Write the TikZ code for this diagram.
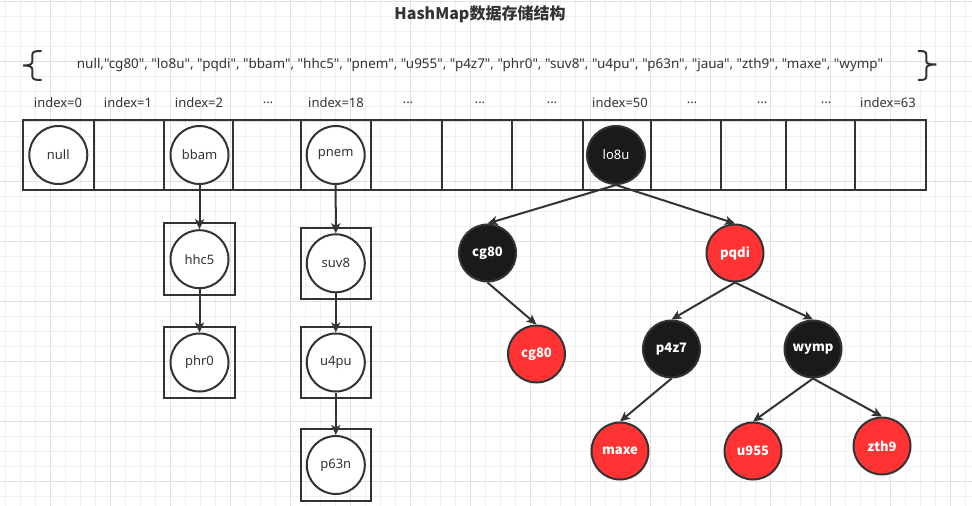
\documentclass[tikz,border=0pt]{standalone}
\usepackage{fontspec}
\setmainfont{Noto Sans}[Ligatures=TeXOff]
\newfontfamily\cjk{Noto Sans CJK SC}[Ligatures=TeXOff]
\usetikzlibrary{arrows.meta}
\definecolor{ink}{HTML}{333333}
\definecolor{rbred}{HTML}{FF3333}
\definecolor{rbblack}{HTML}{1A1A1A}
\definecolor{gridminor}{HTML}{F0F0F0}
\definecolor{gridmajor}{HTML}{E0E0E0}
\newcommand\elip{...}
\begin{document}
\begin{tikzpicture}[x=1pt,y=-1pt,
  lbl/.style={text=ink, font=\fontsize{13}{15}\selectfont, inner sep=0},
  cellbox/.style={draw=ink, line width=2pt, minimum height=70pt, inner sep=0, outer sep=0},
  chainbox/.style={draw=ink, line width=2pt, minimum width=71pt, minimum height=71.5pt, inner sep=0},
  plainnode/.style={circle, draw=ink, line width=2pt, fill=white, minimum size=58pt, inner sep=0, text=ink, font=\fontsize{13}{15}\selectfont},
  blacknode/.style={circle, draw=ink, line width=2pt, fill=rbblack, minimum size=57pt, inner sep=0, text=white, font=\cjk\bfseries\fontsize{13}{15}\selectfont},
  rednode/.style={circle, draw=ink, line width=2pt, fill=rbred, minimum size=57pt, inner sep=0, text=white, font=\cjk\bfseries\fontsize{13}{15}\selectfont},
  link/.style={draw=ink, line width=2pt, -{Stealth[length=10pt,width=9pt,inset=2.5pt]}},
  bracepath/.style={draw=ink, line width=2pt}
]
\useasboundingbox (0,0) rectangle (972,506);
\fill[white] (0,0) rectangle (972,506);
% grid
\foreach \i in {0,...,64} \draw[gridminor, line width=1pt] ({5.7+15*\i},0) -- ({5.7+15*\i},506);
\foreach \j in {0,...,33} \draw[gridminor, line width=1pt] (0,{1.7+15*\j}) -- (972,{1.7+15*\j});
\foreach \i in {0,...,15} \draw[gridmajor, line width=1pt] ({50.7+60*\i},0) -- ({50.7+60*\i},506);
\foreach \j in {0,...,8} \draw[gridmajor, line width=1pt] (0,{1.7+60*\j}) -- (972,{1.7+60*\j});

% title
\node[text=ink, font=\cjk\bfseries\fontsize{16}{18}\selectfont, inner sep=0] (title) at (480,14) {HashMap数据存储结构};

% braces
\draw[bracepath] (41.7,51) .. controls (35,51) and (32.3,51.5) .. (32.3,55) -- (32.3,61.5)
  .. controls (32.3,64.5) and (29,65.5) .. (23.3,65.5)
  .. controls (29,65.5) and (32.3,66.5) .. (32.3,69.5) -- (32.3,76)
  .. controls (32.3,79.5) and (35,80) .. (41.7,80);
\draw[bracepath] (918,51) .. controls (924.7,51) and (926.3,51.5) .. (926.3,55) -- (926.3,61)
  .. controls (926.3,64) and (929.6,64.5) .. (936.3,64.5)
  .. controls (929.6,64.5) and (926.3,65.5) .. (926.3,68.5) -- (926.3,76)
  .. controls (926.3,79.5) and (924.7,80) .. (918,80);
\node[lbl, font=\fontsize{13.45}{15}\selectfont] (keys) at (480,65.5) {null,"cg80", "lo8u", "pqdi", "bbam", "hhc5", "pnem", "u955", "p4z7", "phr0", "suv8", "u4pu", "p63n", "jaua", "zth9", "maxe", "wymp"};

% index labels
\foreach \x/\t/\n in {58/index=0/i0, 128/index=1/i1, 199/index=2/i2, 268/\elip/d1, 336/index=18/i18, 408/\elip/d2, 480/\elip/d3, 552/\elip/d4, 620/index=50/i50, 692/\elip/d5, 762/\elip/d6, 826/\elip/d7, 888/index=63/i63}
  \node[lbl] (\n) at (\x,103) {\t};

% array cells
\foreach \a/\b/\n in {22.7/94/0, 94/164/1, 164/232.7/2, 232.7/301.3/3, 301.3/370.7/4, 370.7/442/5, 442/511.7/6, 511.7/583.3/7, 583.3/651/8, 651/721/9, 721/786/10, 786/855.3/11, 855.3/926/12}
  \node[cellbox, minimum width={(\b-\a)*1pt}] (c\n) at ({(\a+\b)/2},155) {};

% bucket heads
\node[plainnode] (null) at (58.3,155) {null};
\node[plainnode] (bbam) at (199.5,155) {bbam};
\node[plainnode] (pnem) at (335.7,155) {pnem};
\node[blacknode, font=\fontsize{13}{15}\selectfont, minimum size=58pt] (lo8u) at (616,155) {lo8u};

% linked lists
\node[chainbox] (bhhc5) at (199.5,259.2) {};
\node[plainnode] (hhc5) at (199.5,259.2) {hhc5};
\node[chainbox] (bphr0) at (199.5,362.5) {};
\node[plainnode] (phr0) at (199.5,362.5) {phr0};
\node[chainbox, minimum width=70.3pt] (bsuv8) at (335.8,263.3) {};
\node[plainnode] (suv8) at (335.8,263.3) {suv8};
\node[chainbox, minimum width=70.3pt] (bu4pu) at (335.8,362.5) {};
\node[plainnode] (u4pu) at (335.8,362.5) {u4pu};
\node[chainbox, minimum width=70.3pt] (bp63n) at (335.8,465) {};
\node[plainnode] (p63n) at (335.8,465) {p63n};

\draw[link] (bbam.south) -- (hhc5.north);
\draw[link] (hhc5.south) -- (phr0.north);
\draw[link] (pnem.south) -- (suv8.north);
\draw[link] (suv8.south) -- (u4pu.north);
\draw[link] (u4pu.south) -- (p63n.north);

% red-black tree
\node[blacknode] (cg80) at (487.5,253) {cg80};
\node[rednode] (pqdi) at (735,253) {pqdi};
\node[rednode] (cg80r) at (536.5,354) {cg80};
\node[blacknode] (p4z7) at (671.5,349) {p4z7};
\node[blacknode] (wymp) at (813,349) {wymp};
\node[rednode] (maxe) at (620,451) {maxe};
\node[rednode] (u955) at (753,451) {u955};
\node[rednode] (zth9) at (882,446) {zth9};

\draw[link] (lo8u.south) -- (cg80.north);
\draw[link] (lo8u.south) -- (pqdi.north);
\draw[link] (cg80.south) -- (cg80r.north);
\draw[link] (pqdi.south) -- (p4z7.north);
\draw[link] (pqdi.south) -- (wymp.north);
\draw[link] (p4z7.south) -- (maxe.north);
\draw[link] (wymp.south) -- (u955.north);
\draw[link] (wymp.south) -- (zth9.north);
\end{tikzpicture}
\end{document}
